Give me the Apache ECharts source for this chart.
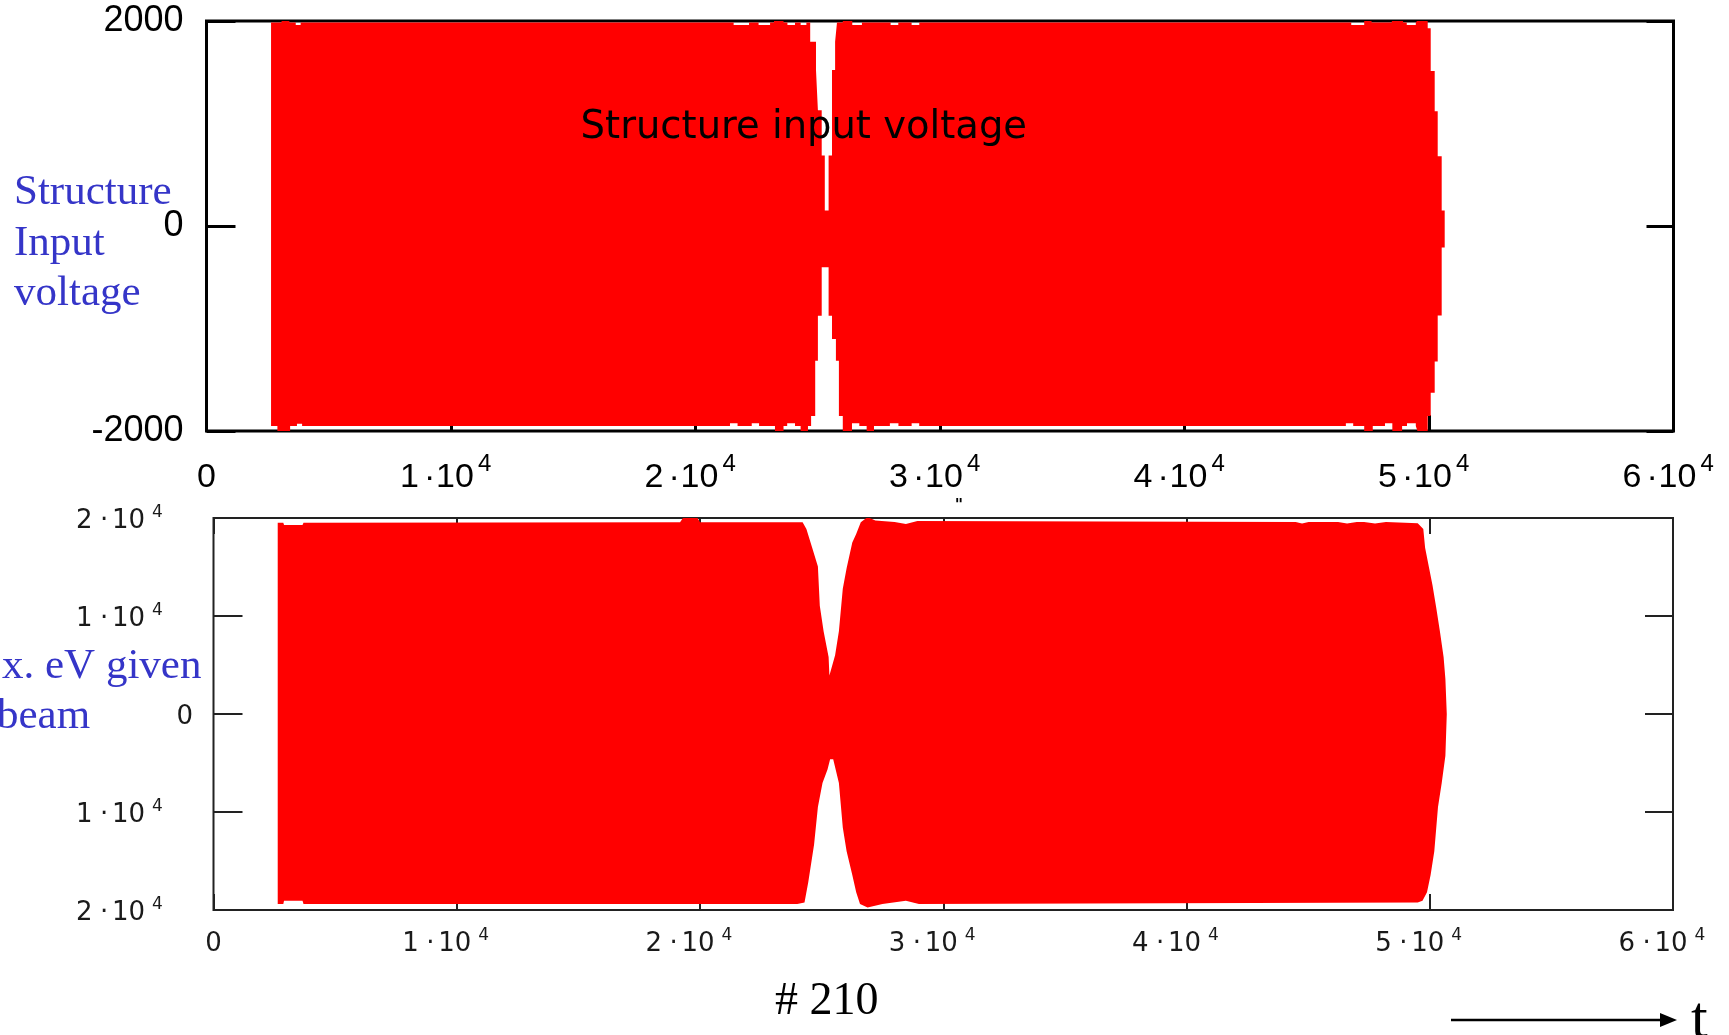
<!DOCTYPE html>
<html><head><meta charset="utf-8">
<script src="https://cdn.jsdelivr.net/npm/echarts@6/dist/echarts.min.js"></script>
<style>html,body{margin:0;padding:0;background:#fff}#c{width:1729px;height:1035px}</style>
</head><body><div id="c"></div>
<script>
// ---- tick labels ----
const xTicks = [0, 10000, 20000, 30000, 40000, 50000, 60000];
const xMantissa = ['0', '1', '2', '3', '4', '5', '6'];
const exponent = '4';
const topYTicks = [-2000, 0, 2000];
const topYLabels = ['-2000', '0', '2000'];
const botYTicks = [-20000, -10000, 0, 10000, 20000];
const botYMantissa = ['2', '1', '0', '1', '2'];

// ---- texts ----
const topTitle = 'Structure input voltage';
const topSideLabel = 'Structure\nInput\nvoltage';
const botSideLine1 = 'x. eV given';
const botSideLine2 = 'beam';
const caseLabel = '# 210';
const timeLabel = 't';

// ---- envelope of structure input voltage (t, V), piecewise constant ----
const topUpper = [
  [2640, 1985], [3070, 2010], [3390, 1985], [3650, 1960], [3850, 1985],
  [21560, 1960], [22190, 1985], [22580, 1960], [23050, 1985], [23210, 2010],
  [23600, 1985], [23760, 1960], [24070, 1985], [24300, 1960], [24535, 1985],
  [24691, 1797], [24928, 1521], [25006, 1130], [25162, 689], [25288, 152],
  [25444, 689], [25583, 1521], [25710, 1797], [25787, 1985], [26024, 2010],
  [26412, 1960], [26806, 1985], [27980, 1960], [28294, 1985], [28839, 1960],
  [29154, 1985], [46820, 1960], [47350, 2010], [47650, 1985], [48480, 2010],
  [48940, 1985], [49090, 1960], [49460, 1985], [49540, 2010], [49947, 1929],
  [50070, 1511], [50233, 1120], [50356, 680], [50519, 152], [50642, 0]
];
const topLower = [
  [2640, -1950], [2900, -2010], [3420, -1950], [3700, -1930], [3910, -1950],
  [21410, -1925], [21720, -1950], [22300, -1925], [22600, -1950], [23250, -2010],
  [23600, -1950], [23750, -1925], [24070, -1950], [24300, -2010], [24600, -1950],
  [24728, -1853], [24896, -1315], [25006, -875], [25162, -403], [25444, -875],
  [25583, -1103], [25743, -1315], [25865, -1853], [26024, -2010], [26400, -1925],
  [26700, -1950], [27000, -2010], [27300, -1950], [27950, -1925], [28300, -1950],
  [28840, -1925], [29150, -1950], [46600, -1925], [46900, -1950], [47350, -2010],
  [47700, -1950], [48200, -1925], [48500, -2010], [48900, -1950], [49100, -1925],
  [49460, -1950], [49540, -2010], [49947, -1853], [50070, -1628], [50233, -1322],
  [50356, -872], [50519, -210], [50642, 0]
];

// ---- envelope of max. eV given to beam (t, eV) ----
const botUpper = [
  [2640, 19520], [2870, 19520], [2900, 19290], [3660, 19290], [3700, 19520],
  [19180, 19560], [19300, 20000], [19900, 20000], [20000, 19560], [24218, 19572],
  [24374, 18878], [24612, 16970], [24847, 15051], [24925, 11051], [25081, 8439],
  [25287, 5826], [25320, 3918], [25398, 3918], [25554, 6000], [25710, 8439],
  [25870, 12786], [26027, 14878], [26261, 17490], [26421, 18357], [26610, 19572],
  [26890, 20100], [27207, 19745], [28000, 19600], [28465, 19398], [28937, 19684],
  [44490, 19600], [44750, 19450], [45020, 19600], [46230, 19600], [46600, 19450],
  [47000, 19600], [47300, 19600], [47750, 19450], [48200, 19600], [49505, 19469],
  [49735, 18878], [49809, 16970], [49961, 15051], [50113, 13133], [50265, 10878],
  [50417, 8439], [50569, 5826], [50643, 3571], [50700, 0]
];
const botLower = [
  [2640, -19400], [2870, -19400], [2900, -19051], [3660, -19051], [3700, -19400],
  [24000, -19400], [24296, -19224], [24452, -17132], [24690, -13306], [24847, -9480],
  [25036, -7041], [25242, -5653], [25349, -4612], [25476, -4612], [25710, -7041],
  [25870, -11571], [26027, -14000], [26261, -16439], [26421, -18184], [26578, -19398],
  [26890, -19745], [27500, -19400], [28465, -19051], [29000, -19400], [49505, -19224],
  [49702, -19051], [49887, -18184], [50035, -16439], [50187, -14000], [50339, -9480],
  [50492, -7041], [50643, -4265], [50700, 0]
];

const RED = '#ff0000';
const BLUE = '#3535c8';

function xFmt(v) {
  const i = xTicks.indexOf(v);
  if (i < 0) return '';
  const m = xMantissa[i];
  return m === '0' ? '{z|0}' : '{m|' + m + '}{d|·}{e|10}{s|' + exponent + '}';
}
function botYFmt(v) {
  const i = botYTicks.indexOf(v);
  if (i < 0) return '';
  const m = botYMantissa[i];
  return m === '0' ? '{z|0}' : '{m|' + m + '}{d|·}{e|10}{s|' + exponent + '}';
}
function topYFmt(v) {
  const i = topYTicks.indexOf(v);
  return i < 0 ? '' : topYLabels[i];
}

const topFont = 'Liberation Sans';
const botFont = 'DejaVu Sans';
const topRich = {
  z: { fontFamily: topFont, fontSize: 34, lineHeight: 50, color: '#000', align: 'left' },
  m: { fontFamily: topFont, fontSize: 34, lineHeight: 50, color: '#000', width: 24, align: 'left' },
  d: { fontFamily: topFont, fontSize: 34, lineHeight: 50, color: '#000', width: 12, align: 'left' },
  e: { fontFamily: topFont, fontSize: 34, lineHeight: 50, color: '#000', width: 42, align: 'left' },
  s: { fontFamily: topFont, fontSize: 24, lineHeight: 18, color: '#000', width: 24, align: 'left', verticalAlign: 'top' }
};
function botRich(supW) {
  return {
    z: { fontFamily: botFont, fontSize: 26, lineHeight: 34, color: '#1a1a1a', align: 'left' },
    m: { fontFamily: botFont, fontSize: 26, lineHeight: 34, color: '#1a1a1a', width: 24, align: 'left' },
    d: { fontFamily: botFont, fontSize: 26, lineHeight: 34, color: '#1a1a1a', width: 12, align: 'left' },
    e: { fontFamily: botFont, fontSize: 26, lineHeight: 34, color: '#1a1a1a', width: 40, align: 'left' },
    s: { fontFamily: botFont, fontSize: 17, lineHeight: 16, color: '#1a1a1a', width: supW, align: 'left', verticalAlign: 'top' }
  };
}

const chart = echarts.init(document.getElementById('c'), null, { renderer: 'canvas' });

const areaSeries = (data, xi, yi, step) => ({
  type: 'line', xAxisIndex: xi, yAxisIndex: yi, data: data,
  step: step, symbol: 'none', showSymbol: false, silent: true,
  lineStyle: { width: 0, color: RED },
  areaStyle: { color: RED, opacity: 1, origin: 'auto' },
  clip: true, z: 2
});

const noLine = { show: false, onZero: false };

chart.setOption({
  animation: false,
  backgroundColor: '#ffffff',
  grid: [
    { left: 206.5, top: 21, width: 1467, height: 410, show: true, borderColor: '#000', borderWidth: 3,
      backgroundColor: 'transparent', containLabel: false, outerBoundsMode: 'none' },
    { left: 213.5, top: 518, width: 1459.5, height: 392, show: true, borderColor: '#222', borderWidth: 2,
      backgroundColor: 'transparent', containLabel: false, outerBoundsMode: 'none' }
  ],
  xAxis: [
    { gridIndex: 0, type: 'value', position: 'bottom', min: 0, max: 60000, interval: 10000,
      axisLine: noLine, splitLine: { show: false },
      axisTick: { show: true, inside: true, length: 16, lineStyle: { color: '#000', width: 3 } },
      axisLabel: { show: true, margin: 21.5, formatter: xFmt, rich: topRich, showMinLabel: true, showMaxLabel: true, hideOverlap: false } },
    { gridIndex: 1, type: 'value', position: 'bottom', min: 0, max: 60000, interval: 10000,
      axisLine: noLine, splitLine: { show: false },
      axisTick: { show: true, inside: true, length: 16, lineStyle: { color: '#222', width: 2 } },
      axisLabel: { show: true, margin: 17, formatter: xFmt, rich: botRich(33), showMinLabel: true, showMaxLabel: true, hideOverlap: false } },
    { gridIndex: 1, type: 'value', position: 'top', min: 0, max: 60000, interval: 10000,
      axisLine: noLine, splitLine: { show: false },
      axisTick: { show: true, inside: true, length: 16, lineStyle: { color: '#222', width: 2 } },
      axisLabel: { show: false } }
  ],
  yAxis: [
    { gridIndex: 0, type: 'value', position: 'left', min: -2000, max: 2000, interval: 2000,
      axisLine: noLine, splitLine: { show: false },
      axisTick: { show: true, inside: true, length: 29, lineStyle: { color: '#000', width: 3 } },
      axisLabel: { show: true, margin: 23, formatter: topYFmt, fontFamily: topFont, fontSize: 36, color: '#000',
        padding: [8, 0, 0, 0], showMinLabel: true, showMaxLabel: true, hideOverlap: false } },
    { gridIndex: 0, type: 'value', position: 'right', min: -2000, max: 2000, interval: 2000,
      axisLine: noLine, splitLine: { show: false },
      axisTick: { show: true, inside: true, length: 27, lineStyle: { color: '#000', width: 3 } },
      axisLabel: { show: false } },
    { gridIndex: 1, type: 'value', position: 'left', min: -20000, max: 20000, interval: 10000,
      axisLine: noLine, splitLine: { show: false },
      axisTick: { show: true, inside: true, length: 29, lineStyle: { color: '#222', width: 2 } },
      axisLabel: { show: true, margin: 20.5, formatter: botYFmt, rich: botRich(41), padding: [7, 0, 0, 0],
        showMinLabel: true, showMaxLabel: true, hideOverlap: false } },
    { gridIndex: 1, type: 'value', position: 'right', min: -20000, max: 20000, interval: 10000,
      axisLine: noLine, splitLine: { show: false },
      axisTick: { show: true, inside: true, length: 28, lineStyle: { color: '#222', width: 2 } },
      axisLabel: { show: false } }
  ],
  series: [
    areaSeries(topUpper, 0, 0, 'end'),
    areaSeries(topLower, 0, 0, 'end'),
    areaSeries(botUpper, 1, 2, false),
    areaSeries(botLower, 1, 2, false)
  ],
  graphic: [
    { type: 'text', x: 580.6, y: 108, z: 100,
      style: { text: topTitle, font: '38.5px "DejaVu Sans"', fill: '#000', textAlign: 'left', textVerticalAlign: 'top' } },
    { type: 'text', x: 14, y: 167.5, z: 100,
      style: { text: topSideLabel, font: '43px "Liberation Serif"', lineHeight: 50.5, fill: BLUE, textAlign: 'left', textVerticalAlign: 'top' } },
    { type: 'text', x: 2, y: 641.5, z: 100,
      style: { text: botSideLine1, font: '43px "Liberation Serif"', lineHeight: 50, fill: BLUE, textAlign: 'left', textVerticalAlign: 'top' } },
    { type: 'text', x: -3, y: 692, z: 100,
      style: { text: botSideLine2, font: '43px "Liberation Serif"', lineHeight: 50, fill: BLUE, textAlign: 'left', textVerticalAlign: 'top' } },
    { type: 'text', x: 775, y: 978.5, z: 100,
      style: { text: caseLabel, font: '46px "Liberation Serif"', lineHeight: 46, fill: '#000', textAlign: 'left', textVerticalAlign: 'top' } },
    { type: 'text', x: 1691, y: 991, z: 100,
      style: { text: timeLabel, font: '60px "Liberation Serif"', lineHeight: 60, fill: '#000', textAlign: 'left', textVerticalAlign: 'top' } },
    { type: 'text', x: 959, y: 498, z: 100,
      style: { text: '"', font: 'bold 16px "DejaVu Sans"', fill: '#000', textAlign: 'center', textVerticalAlign: 'top' } },
    { type: 'line', z: 100, shape: { x1: 1451, y1: 1020, x2: 1664, y2: 1020 }, style: { stroke: '#000', lineWidth: 2.5 } },
    { type: 'polygon', z: 100, shape: { points: [[1660, 1013], [1677, 1020], [1660, 1027]] }, style: { fill: '#000' } }
  ]
});
</script>
</body></html>
